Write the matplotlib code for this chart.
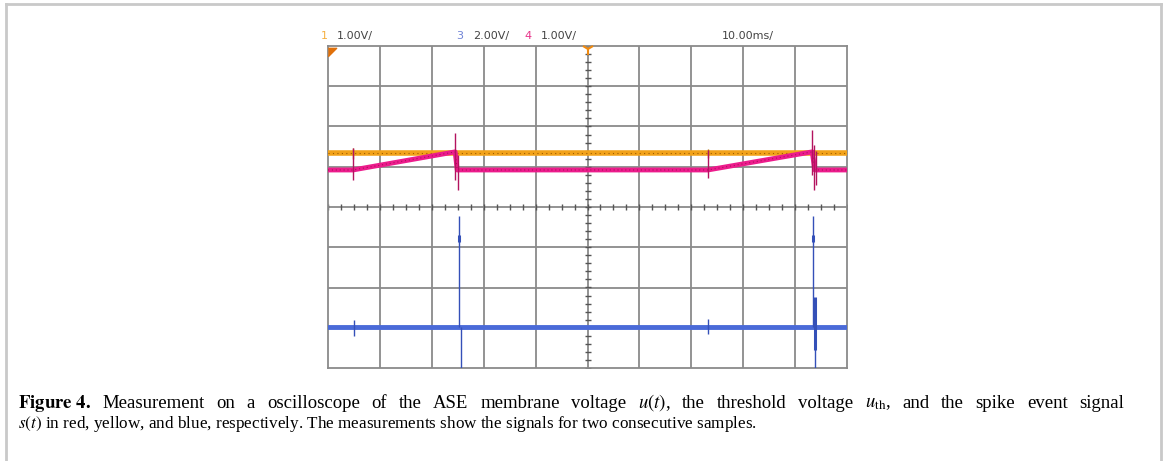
import numpy as np
import matplotlib
matplotlib.use('Agg')
import matplotlib.pyplot as plt
from matplotlib.lines import Line2D

plt.rcParams['mathtext.fontset'] = 'stix'

# screen units: time in ms (10 ms/div, trigger at 0), level in divisions
u_time = [-50, -45.2, -25.5, -25.1, 23.2, 43.3, 43.8, 50]
u_level = [0.92, 0.92, 1.37, 0.92, 0.92, 1.37, 0.92, 0.92]
th_time = [-50, 50]
th_level = [1.34, 1.34]
s_time = [-50, 50]
s_level = [-2.98, -2.98]

# spikes / glitches: (time, low, high)
u_spikes = [(-45.2, 0.67, 1.47), (-25.5, 0.67, 1.84), (-25.0, 0.42, 1.29),
            (23.2, 0.72, 1.42), (43.3, 0.80, 1.91), (43.6, 0.42, 1.54), (44.0, 0.55, 1.40)]
th_spikes = [(-45.2, 1.20, 1.47), (23.2, 1.22, 1.45)]
s_spikes = [(-24.7, -2.98, -0.22), (-24.4, -4.3, -2.98), (43.4, -2.98, -0.22),
            (43.8, -4.3, -2.98), (-45.0, -3.2, -2.8), (23.2, -3.15, -2.78)]
s_marks = [(-24.7, -0.87, -0.70), (43.4, -0.87, -0.70), (43.8, -3.55, -2.24)]

ch_labels = [('1', '1.00V/', '#f5b041'), ('3', '2.00V/', '#6f83d6'), ('4', '1.00V/', '#e8338a')]
time_label = '10.00ms/'

cap1_words = [r'$\mathbf{Figure\ 4.}$', 'Measurement', 'on', 'a', 'oscilloscope', 'of',
              'the', 'ASE', 'membrane', 'voltage', r'$u(t)$,', 'the', 'threshold',
              'voltage', r'$u_{\mathrm{th}}$,', 'and', 'the', 'spike', 'event', 'signal']
cap2 = (r'$s(t)$ in red, yellow, and blue, respectively. The measurements show the '
        r'signals for two consecutive samples.')

fig = plt.figure(figsize=(11.65, 4.61), dpi=100)
W, H = 1165, 461
ax = fig.add_axes([328 / W, 1 - 368 / H, 519 / W, 322 / H])
ax.set_xlim(-50, 50)
ax.set_ylim(-4, 4)
ax.set_xticks([])
ax.set_yticks([])
for sp in ax.spines.values():
    sp.set_color('#8a8a8a')
    sp.set_linewidth(1.3)

grid_c = '#8a8a8a'
for x in np.arange(-40, 50, 10):
    ax.axvline(x, color=grid_c, lw=1.3, zorder=1)
for y in np.arange(-3, 4, 1):
    ax.axhline(y, color=grid_c, lw=1.3, zorder=1)

# minor ticks on the centre axes
ax.plot(np.arange(-50, 50.1, 2.5), np.zeros(41), ls='none', marker='|', ms=5,
        color='#555555', mew=1, zorder=2)
ax.plot(np.zeros(41), np.arange(-4, 4.01, 0.2), ls='none', marker='_', ms=5,
        color='#555555', mew=1, zorder=2)

# threshold (channel 1, orange)
ax.plot(th_time, th_level, color='#f2a21a', lw=4, solid_capstyle='butt', zorder=3)
ax.plot(th_time, th_level, color='#9a5a00', lw=0.8, ls=(0, (1, 3)), zorder=4)
for t, lo, hi in th_spikes:
    ax.vlines(t, lo, hi, color='#b07010', lw=1, zorder=4)

# membrane voltage (channel 4, pink)
ax.plot(u_time, u_level, color='#ec1c8c', lw=3.5, zorder=5)
ax.plot(u_time, u_level, color='#a8105c', lw=0.8, ls=(0, (1, 2.5)), zorder=6)
for t, lo, hi in u_spikes:
    ax.vlines(t, lo, hi, color='#b3135f', lw=1, zorder=6)

# spike signal (channel 3, blue)
ax.plot(s_time, s_level, color='#4a6ad8', lw=3.5, zorder=5)
for t, lo, hi in s_spikes:
    ax.vlines(t, lo, hi, color='#3450b8', lw=1, zorder=6)
for t, lo, hi in s_marks:
    ax.vlines(t, lo, hi, color='#3450b8', lw=2.2, zorder=6)

# trigger and ground markers
ax.plot(0, 3.93, marker='1', ms=9, mew=1.5, color='#f08a10', clip_on=False, zorder=7)
ax.plot(-49.3, 3.85, marker=[(-1, 1), (1, 1), (-1, -1)], ms=6, color='#e0700a',
        clip_on=False, zorder=7)

# channel labels
xs = [(321, 337), (456, 473), (524, 541)]
for (num, scale, col), (xn, xv) in zip(ch_labels, xs):
    fig.text(xn / W, 1 - 36 / H, num, color=col, fontsize=8, va='center')
    fig.text(xv / W, 1 - 36 / H, scale, color='#444444', fontsize=8, va='center')
fig.text(722 / W, 1 - 36 / H, time_label, color='#444444', fontsize=8, va='center')

# page frame
fc = '#c9c9c9'
fig.add_artist(Line2D([6 / W, 6 / W], [0, 1 - 4 / H], color=fc, lw=2))
fig.add_artist(Line2D([6 / W, 1161 / W], [1 - 4 / H, 1 - 4 / H], color=fc, lw=2))
fig.add_artist(Line2D([1161 / W, 1161 / W], [0, 1 - 4 / H], color=fc, lw=2))

# caption, first line justified
renderer = fig.canvas.get_renderer()
words = [fig.text(0, 1 - 403 / H, w, fontsize=13.5, family='Liberation Serif',
                  va='center') for w in cap1_words]
widths = [t.get_window_extent(renderer).width for t in words]
x0, x1 = 18, 1124
gap = (x1 - x0 - sum(widths)) / (len(words) - 1)
x = x0
for t, w in zip(words, widths):
    t.set_x(x / W)
    x += w + gap
fig.text(18 / W, 1 - 424 / H, cap2, fontsize=12.3, family='Liberation Serif', va='center')

fig.savefig('out.png', dpi=100)
